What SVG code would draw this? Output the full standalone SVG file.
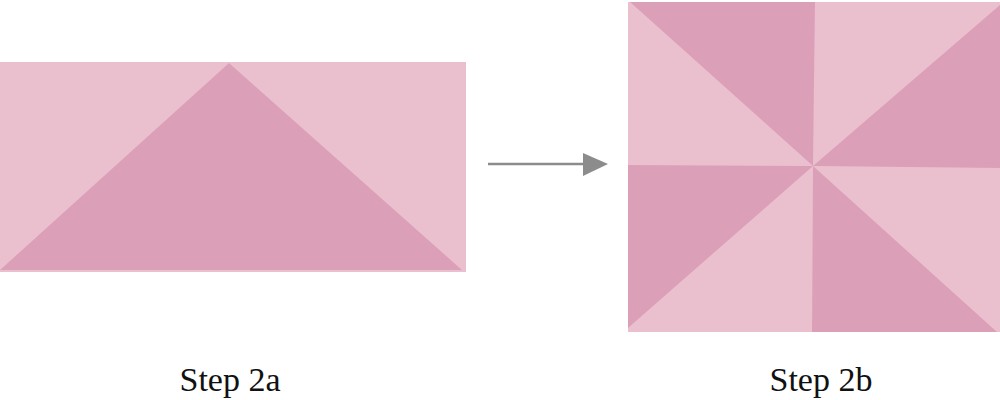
<svg xmlns="http://www.w3.org/2000/svg" width="1000" height="400" viewBox="0 0 1000 400">
<style>
.l{fill:#EBC0CE}
.d{fill:#DBA0B8}
.t{font-family:"Liberation Serif",serif;font-size:34px;fill:#111;text-anchor:middle}
</style>
<defs>
<marker id="ah" markerWidth="10" markerHeight="10" refX="9" refY="5" orient="auto" markerUnits="userSpaceOnUse" viewBox="0 0 10 10">
<path d="M0,0 L10,5 L0,10 Z" fill="#8C8C8C"/>
</marker>
</defs>
<g id="step2a">
<rect class="l" x="0" y="62" width="466" height="210"/>
<polygon class="d" points="229,63 462,270 0,270"/>
</g>
<g id="step2b">
<rect class="l" x="628" y="2" width="372" height="330"/>
<polygon class="d" points="630,2 815,2 813,166"/>
<polygon class="d" points="1000,5 1000,168 813,166"/>
<polygon class="d" points="628,165 813,166 628,328"/>
<polygon class="d" points="813,166 812,332 997,332"/>
</g>
<g id="connectors">
<line x1="488" y1="164" x2="585" y2="164" stroke="#8C8C8C" stroke-width="2.5"/>
<polygon points="583,153 608,164 583,176" fill="#8C8C8C"/>
</g>
<g id="labels">
<text class="t" x="230" y="391">Step 2a</text>
<text class="t" x="821" y="391">Step 2b</text>
</g>
</svg>
